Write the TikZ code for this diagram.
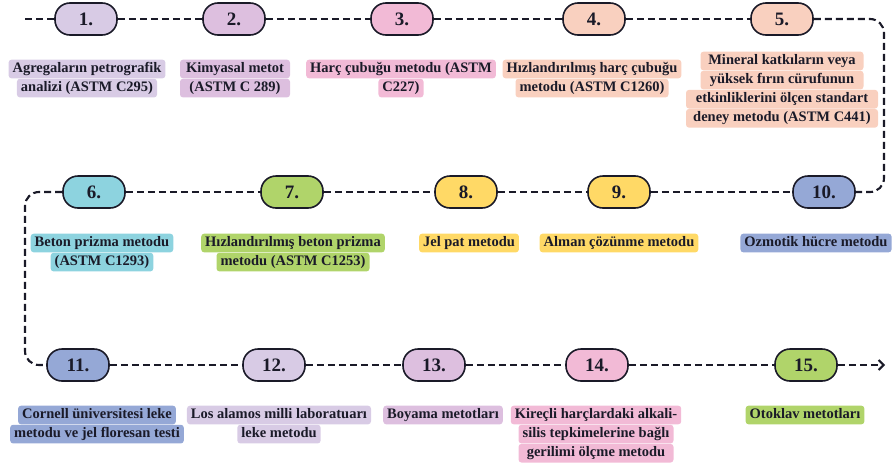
\documentclass[tikz,border=0pt]{standalone}
\usepackage{fontspec}
\setmainfont{Liberation Serif}
\usetikzlibrary{arrows.meta,positioning}
\definecolor{Ink}{HTML}{1A1A28}
\definecolor{Lilac}{HTML}{D8CBE5}
\definecolor{Mauve}{HTML}{DDBFDF}
\definecolor{Rose}{HTML}{F2BAD6}
\definecolor{Peach}{HTML}{F9D0BF}
\definecolor{Sky}{HTML}{8DD3DF}
\definecolor{Lime}{HTML}{B0D46A}
\definecolor{Sun}{HTML}{FFD966}
\definecolor{Slate}{HTML}{95A8D6}
\tikzset{
  stepbox/.style={draw=Ink,line width=1.6pt,rounded corners=15pt,minimum width=62pt,minimum height=32pt,inner sep=0pt,font=\bfseries\fontsize{19}{19}\selectfont,text=Ink},
  tag/.style={rounded corners=3pt,inner xsep=4pt,inner ysep=2.2pt,text height=10.8pt,text depth=3.5pt,font=\bfseries\fontsize{14.5}{18}\selectfont,text=Ink},
  link/.style={draw=Ink,line width=2.1pt,dash pattern=on 7pt off 4pt}
}

\begin{document}
\begin{tikzpicture}[x=1pt,y=-1pt]
\useasboundingbox (0,0) rectangle (896,466);
% the fifteen steps
\node[stepbox,fill=Lilac] (m1) at (86,19) {1.};
\node[stepbox,fill=Mauve] (m2) at (234,19) {2.};
\node[stepbox,fill=Rose]  (m3) at (402,19) {3.};
\node[stepbox,fill=Peach] (m4) at (594,19) {4.};
\node[stepbox,fill=Peach] (m5) at (782,19) {5.};
\node[stepbox,fill=Sky]   (m6) at (94,192) {6.};
\node[stepbox,fill=Lime]  (m7) at (292,192) {7.};
\node[stepbox,fill=Sun]   (m8) at (466,192) {8.};
\node[stepbox,fill=Sun]   (m9) at (619,192) {9.};
\node[stepbox,fill=Slate] (m10) at (824,192) {10.};
\node[stepbox,fill=Slate] (m11) at (78,365) {11.};
\node[stepbox,fill=Lilac] (m12) at (274,365) {12.};
\node[stepbox,fill=Mauve] (m13) at (434,365) {13.};
\node[stepbox,fill=Rose]  (m14) at (597,365) {14.};
\node[stepbox,fill=Lime]  (m15) at (806,365) {15.};

% path
\coordinate (start) at (25,19);
\coordinate (turnR) at (884,192);
\coordinate (turnL) at (25,280);
\coordinate (finish) at (885,365);
\draw[link] (start) -- (m1.west);
\foreach \a/\b in {1/2,2/3,3/4,4/5,6/7,7/8,8/9,9/10,11/12,12/13,13/14,14/15}
  \draw[link] (m\a.east) -- (m\b.west);
\draw[link,rounded corners=14pt] (m5.east) -| (turnR) -- (m10.east);
\draw[link,rounded corners=14pt] (m6.west) -| (turnL) |- (m11.west);
\draw[link,-{Straight Barb[length=5pt,width=10pt]}] (m15.east) -- (finish);

% row 1 texts
\node[tag,fill=Lilac] (t1a) at (87,69) {Agregaların petrografik};
\node[tag,fill=Lilac,below=0pt of t1a] (t1b) {analizi (ASTM C295)};
\node[tag,fill=Mauve,minimum width=110pt] (t2a) at (235,69) {Kimyasal metot};
\node[tag,fill=Mauve,minimum width=110pt,below=0pt of t2a] (t2b) {(ASTM C 289)};
\node[tag,fill=Rose] (t3a) at (401,69) {Harç çubuğu metodu (ASTM};
\node[tag,fill=Rose,below=0pt of t3a] (t3b) {C227)};
\node[tag,fill=Peach] (t4a) at (592,69) {Hızlandırılmış harç çubuğu};
\node[tag,fill=Peach,below=0pt of t4a] (t4b) {metodu (ASTM C1260)};
\node[tag,fill=Peach,minimum width=163pt] (t5a) at (782,61) {Mineral katkıların veya};
\node[tag,fill=Peach,minimum width=163pt,below=0pt of t5a] (t5b) {yüksek fırın cürufunun};
\node[tag,fill=Peach,minimum width=192pt,below=0pt of t5b] (t5c) {etkinliklerini ölçen standart};
\node[tag,fill=Peach,minimum width=192pt,below=0pt of t5c] (t5d) {deney metodu (ASTM C441)};

% row 2 texts
\node[tag,fill=Sky] (t6a) at (102,243) {Beton prizma metodu};
\node[tag,fill=Sky,below=0pt of t6a] (t6b) {(ASTM C1293)};
\node[tag,fill=Lime] (t7a) at (293,243) {Hızlandırılmış beton prizma};
\node[tag,fill=Lime,below=0pt of t7a] (t7b) {metodu (ASTM C1253)};
\node[tag,fill=Sun] (t8) at (469,243) {Jel pat metodu};
\node[tag,fill=Sun] (t9) at (619,243) {Alman çözünme metodu};
\node[tag,fill=Slate] (t10) at (816,243) {Ozmotik hücre metodu};

% row 3 texts
\node[tag,fill=Slate] (t11a) at (97,415) {Cornell üniversitesi leke};
\node[tag,fill=Slate,below=0pt of t11a] (t11b) {metodu ve jel floresan testi};
\node[tag,fill=Lilac] (t12a) at (279,415) {Los alamos milli laboratuarı};
\node[tag,fill=Lilac,below=0pt of t12a] (t12b) {leke metodu};
\node[tag,fill=Mauve] (t13) at (443,415) {Boyama metotları};
\node[tag,fill=Rose] (t14a) at (596,415) {Kireçli harçlardaki alkali-};
\node[tag,fill=Rose,minimum width=155pt,below=0pt of t14a] (t14b) {silis tepkimelerine bağlı};
\node[tag,fill=Rose,minimum width=155pt,below=0pt of t14b] (t14c) {gerilimi ölçme metodu};
\node[tag,fill=Lime] (t15) at (805,415) {Otoklav metotları};
\end{tikzpicture}
\end{document}
